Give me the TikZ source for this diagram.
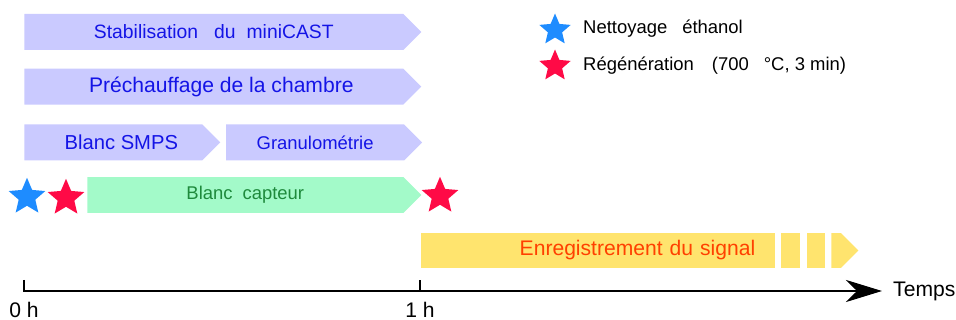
\documentclass[tikz,border=0pt]{standalone}
\usepackage{fontspec}
\setmainfont{Liberation Sans}
\usepackage{tikz}
\usetikzlibrary{shapes.geometric,shapes.symbols,arrows.meta,positioning}
\definecolor{PhaseLav}{HTML}{CACAFF}
\definecolor{PhaseBlue}{HTML}{1414E6}
\definecolor{BlankMint}{HTML}{A3FAC9}
\definecolor{BlankGreen}{HTML}{1E8A3C}
\definecolor{RecYellow}{HTML}{FFE46E}
\definecolor{RecOrange}{HTML}{FF4000}
\definecolor{StarBlue}{HTML}{1E8CFF}
\definecolor{StarRed}{HTML}{FF0A46}
\tikzset{
  PH/.style={shape=signal,signal to=east,signal pointer angle=90,
             draw=none,inner sep=0pt,minimum height=0.72cm,
             text centered},
  nL/.style={PH,fill=PhaseLav,text=PhaseBlue},
  nM/.style={PH,fill=BlankMint,text=BlankGreen},
  nY/.style={rectangle,fill=RecYellow,draw=none,inner sep=0pt,minimum height=0.70cm},
  evt/.style={star,star points=5,star point ratio=2.2,inner sep=0pt,
              draw=none,minimum size=0.77cm},
  axis/.style={line width=1.6pt,-{Stealth[length=0.72cm,width=0.44cm,inset=0.22cm]}},
  tick/.style={line width=1.5pt}
}
\begin{document}
\begin{tikzpicture}[x=0.02cm,y=-0.02cm,
  every node/.style={font=\fontsize{12}{14}\selectfont},
  small/.style={font=\fontsize{10.5}{12}\selectfont}]
  \useasboundingbox (0,0) rectangle (956,320);
  % phases
  \node[nL,font=\fontsize{11}{13}\selectfont,minimum width=7.94cm,anchor=west] (sta) at (24,32) {Stabilisation\hspace{0.32cm}du\hspace{0.22cm}miniCAST};
  \node[nL,minimum width=7.94cm,below=0.36cm of sta] (pre) {\hspace{0.3cm}Préchauffage de la chambre};
  \node[nL,font=\fontsize{11.5}{13}\selectfont,minimum width=3.92cm,below=0.38cm of pre.south west,anchor=north west] (smps) {\hspace{0.32cm}Blanc SMPS};
  \node[nL,small,minimum width=3.92cm,right=0.1cm of smps] (gra) {Granulométrie};
  \node[nM,small,minimum width=6.68cm,anchor=west] (cap) at (87,195) {Blanc\hspace{0.2cm}capteur};
  \node[evt,fill=StarBlue] (e1) at (27,197) {};
  \node[evt,fill=StarRed] (r1) at (66,198) {};
  \node[evt,fill=StarRed] (r2) at (440,196) {};
  % enregistrement
  \node[nY,text=RecOrange,text width=6.28cm,align=right,inner xsep=0.4cm,anchor=west] (enr) at (421,250.5) {Enregistrement du signal};
  \node[nY,minimum width=0.38cm,right=0.1cm of enr] (b1) {};
  \node[nY,minimum width=0.36cm,right=0.12cm of b1] (b2) {};
  \node[PH,fill=RecYellow,minimum height=0.70cm,minimum width=0.54cm,right=0.12cm of b2] (b3) {};
  % legende
  \node[evt,fill=StarBlue,minimum size=0.66cm] (k1) at (555,30) {};
  \node[small,anchor=west] (k1t) at (577,29) {Nettoyage\hspace{0.3cm}éthanol};
  \node[evt,fill=StarRed,minimum size=0.66cm] (k2) at (555,66) {};
  \node[small,anchor=west] (k2t) at (577,66) {Régénération\hspace{0.36cm}(700\hspace{0.3cm}°C, 3 min)};
  % axe
  \coordinate (o0) at (24,280);
  \coordinate (o) at (24,291);
  \coordinate (h1) at (420,291);
  \coordinate (h1t) at (420,280);
  \coordinate (tend) at (882,291);
  \draw[axis] (o0) -- (o) -- (tend);
  \draw[tick] (h1) -- (h1t);
  \node[below=0.1cm of o] (l0) {0 h};
  \node[below=0.1cm of h1] (l1) {1 h};
  \node[right=0.1cm of tend] (tps) {Temps};
\end{tikzpicture}
\end{document}
